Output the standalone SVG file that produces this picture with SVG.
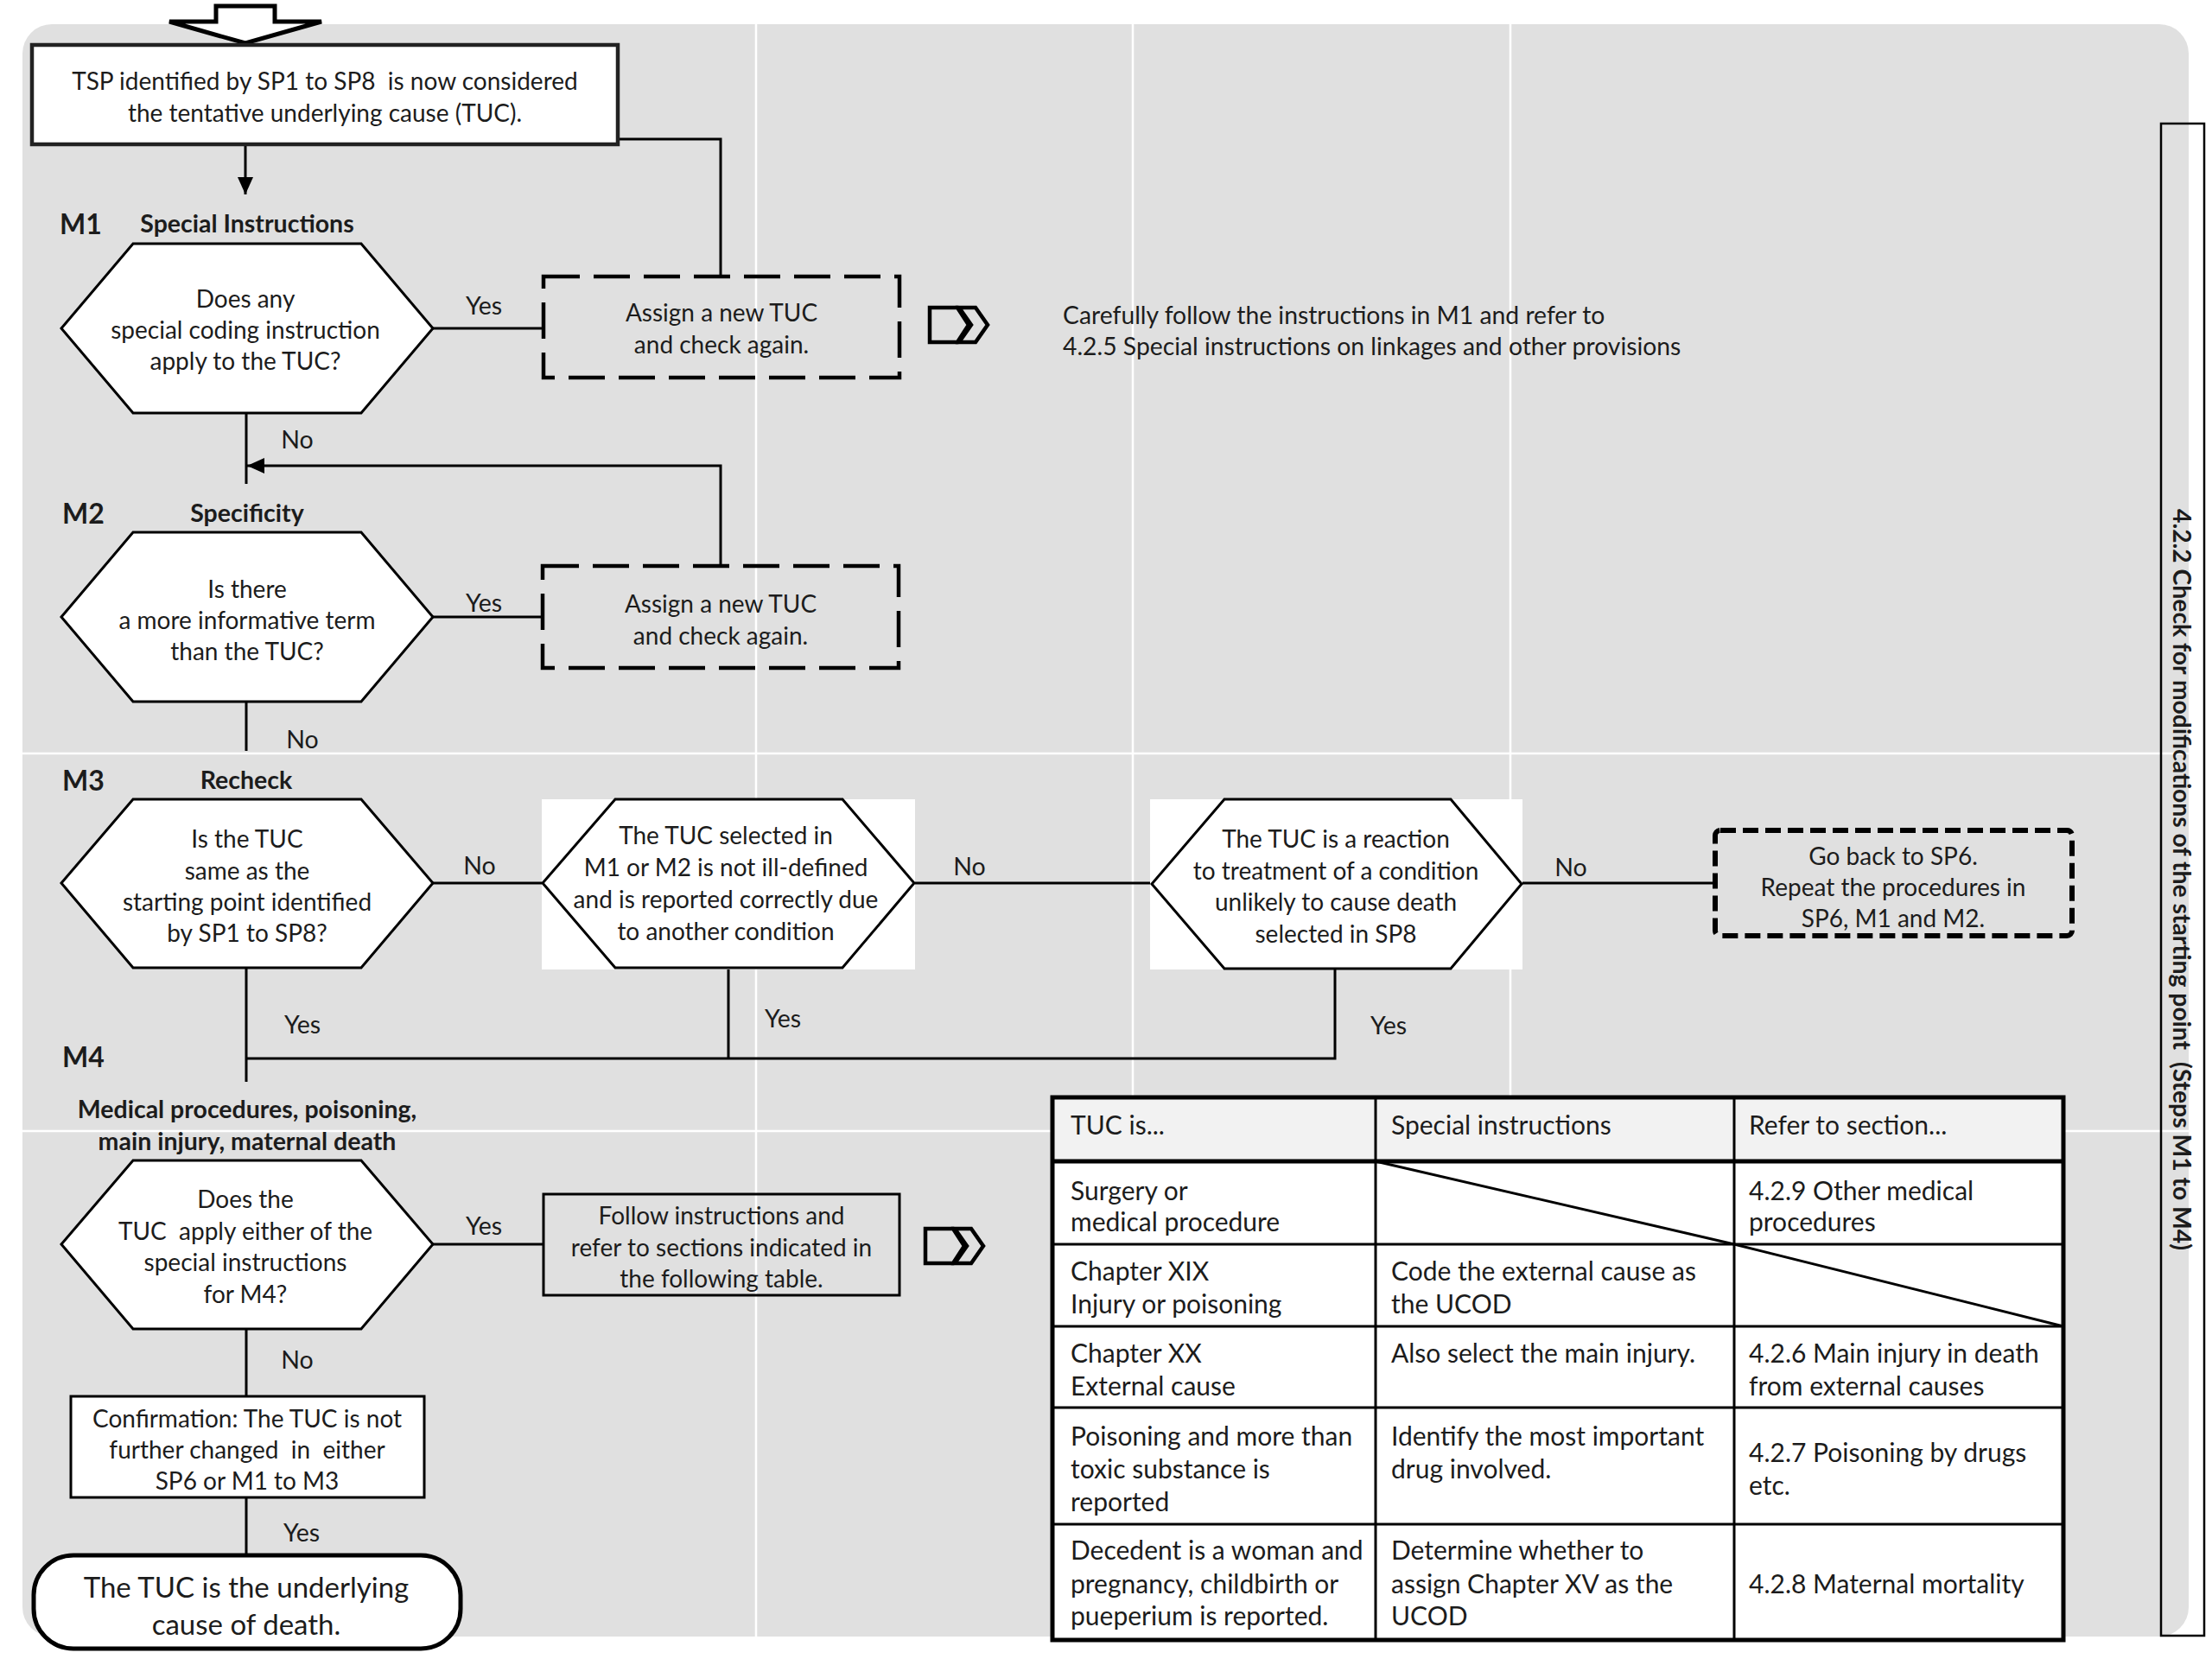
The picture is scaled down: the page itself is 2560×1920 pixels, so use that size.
<svg xmlns="http://www.w3.org/2000/svg" width="2560" height="1920" viewBox="0 0 2560 1920">
<defs>
<style>
text{font-family:Lato,"Liberation Sans",sans-serif;fill:#1c1c1c;dominant-baseline:central}
.t{font-size:28px;text-anchor:middle}
.tl{font-size:30px;text-anchor:start}
.lb{font-size:28.5px;text-anchor:middle}
.hb{font-size:28.5px;font-weight:bold;text-anchor:middle}
.mb{font-size:32px;font-weight:bold;text-anchor:start}
.big{font-size:33px;text-anchor:middle}
.hex{fill:#fff;stroke:#000;stroke-width:3;stroke-linejoin:miter}
.box{fill:none;stroke:#000;stroke-width:3}
.dash1{fill:none;stroke:#000;stroke-width:4.5;stroke-dasharray:42 16}
.dash2{fill:none;stroke:#000;stroke-width:6;stroke-dasharray:18 8;stroke-linejoin:round}
.ln{fill:none;stroke:#000;stroke-width:3}
.grid{stroke:#fff;stroke-width:2.5}
.icon{fill:none;stroke:#000;stroke-width:4.5;stroke-linejoin:miter}
</style>
<marker id="arr" viewBox="0 0 20 18" refX="20" refY="9" markerWidth="20" markerHeight="18" markerUnits="userSpaceOnUse" orient="auto">
<path d="M0,0 L20,9 L0,18 Z" fill="#000"/>
</marker>
<g id="chev">
<path class="icon" d="M2,2 H34 L47,22 L34,42 H2 Z"/>
<path class="icon" d="M36,2 H55 L69,22 L55,42 H36 L50,22 Z"/>
</g>
</defs>

<!-- background panel -->
<g id="background">
<rect x="0" y="0" width="2560" height="1920" fill="#fff"/>
<rect x="26" y="28" width="2507" height="1866" rx="34" fill="#e0e0e0"/>
<line class="grid" x1="875" y1="28" x2="875" y2="1894"/>
<line class="grid" x1="1311" y1="28" x2="1311" y2="1894"/>
<line class="grid" x1="1748" y1="28" x2="1748" y2="1894"/>
<line class="grid" x1="26" y1="872" x2="2533" y2="872"/>
<line class="grid" x1="26" y1="1309" x2="2533" y2="1309"/>
</g>

<g id="side-label">
<rect x="2501" y="143" width="50" height="1750" fill="none" stroke="#000" stroke-width="2.5"/>
<text transform="translate(2526,1018) rotate(90)" style="font-size:28.3px;font-weight:bold;text-anchor:middle" xml:space="preserve">4.2.2 Check for modifications of the starting point  (Steps M1 to M4)</text>
</g>

<g id="entry-arrow">
<polygon points="250,7 318,7 318,25 372,25 284,50 196,25 250,25" fill="#fff" stroke="#000" stroke-width="5"/>
</g>

<!-- connectors -->
<g id="connectors">
<path class="ln" d="M284,168 V225" marker-end="url(#arr)"/>
<path class="ln" d="M715,161 H834 V320"/>
<path class="ln" d="M499,380 H629"/>
<path class="ln" d="M285,478 V560"/>
<path class="ln" d="M834,655 V539 H286" marker-end="url(#arr)"/>
<path class="ln" d="M501,714 H628"/>
<path class="ln" d="M285,812 V869"/>
<path class="ln" d="M501,1022 H628"/>
<path class="ln" d="M1058,1022 H1333"/>
<path class="ln" d="M1761,1022 H1985"/>
<path class="ln" d="M285,1120 V1252"/>
<path class="ln" d="M843,1120 V1225"/>
<path class="ln" d="M1545,1121 V1225 H285"/>
<path class="ln" d="M501,1440 H629"/>
<path class="ln" d="M285,1538 V1616"/>
<path class="ln" d="M285,1733 V1800"/>
<text class="lb" x="560" y="353">Yes</text>
<text class="lb" x="344" y="508">No</text>
<text class="lb" x="560" y="697">Yes</text>
<text class="lb" x="350" y="855">No</text>
<text class="lb" x="555" y="1001">No</text>
<text class="lb" x="1122" y="1002">No</text>
<text class="lb" x="1818" y="1003">No</text>
<text class="lb" x="350" y="1185">Yes</text>
<text class="lb" x="906" y="1178">Yes</text>
<text class="lb" x="1607" y="1186">Yes</text>
<text class="lb" x="560" y="1418">Yes</text>
<text class="lb" x="344" y="1573">No</text>
<text class="lb" x="349" y="1773">Yes</text>
</g>

<g id="start">
<rect x="37" y="52" width="678" height="115" fill="#fff" stroke="#222" stroke-width="4.5"/>
<text class="t" x="376" y="93" xml:space="preserve">TSP identified by SP1 to SP8  is now considered</text>
<text class="t" x="376" y="130">the tentative underlying cause (TUC).</text>
</g>

<g id="m1">
<text class="mb" x="69" y="258">M1</text>
<text class="hb" x="286" y="258">Special Instructions</text>
<polygon class="hex" points="154,282 418,282 501,380 418,478 154,478 71,380"/>
<text class="t" x="284" y="345">Does any</text>
<text class="t" x="284" y="381">special coding instruction</text>
<text class="t" x="284" y="417">apply to the TUC?</text>
</g>

<g id="m1-assign">
<rect class="dash1" x="629" y="320" width="412" height="117"/>
<text class="t" x="835" y="361">Assign a new TUC</text>
<text class="t" x="835" y="398">and check again.</text>
</g>

<g id="m1-note">
<use href="#chev" x="1074" y="354"/>
<text x="1230" y="364" style="font-size:28.3px">Carefully follow the instructions in M1 and refer to</text>
<text x="1230" y="400" style="font-size:28.3px">4.2.5 Special instructions on linkages and other provisions</text>
</g>

<g id="m2">
<text class="mb" x="72" y="593">M2</text>
<text class="hb" x="286" y="593">Specificity</text>
<polygon class="hex" points="154,616 418,616 501,714 418,812 154,812 71,714"/>
<text class="t" x="286" y="681">Is there</text>
<text class="t" x="286" y="717">a more informative term</text>
<text class="t" x="286" y="753">than the TUC?</text>
</g>

<g id="m2-assign">
<rect class="dash1" x="628" y="655" width="412" height="118"/>
<text class="t" x="834" y="698">Assign a new TUC</text>
<text class="t" x="834" y="735">and check again.</text>
</g>

<g id="m3">
<text class="mb" x="72" y="902">M3</text>
<text class="hb" x="285" y="902">Recheck</text>
<polygon class="hex" points="154,925 418,925 501,1022 418,1120 154,1120 71,1022"/>
<text class="t" x="286" y="970">Is the TUC</text>
<text class="t" x="286" y="1007">same as the</text>
<text class="t" x="286" y="1043">starting point identified</text>
<text class="t" x="286" y="1079">by SP1 to SP8?</text>
</g>

<g id="m3-illdefined">
<rect x="627" y="925" width="432" height="197" fill="#fff"/>
<polygon class="hex" points="712,925 975,925 1058,1022 975,1120 712,1120 628,1022"/>
<text class="t" x="840" y="966">The TUC selected in</text>
<text class="t" x="840" y="1003">M1 or M2 is not ill-defined</text>
<text class="t" x="840" y="1040">and is reported correctly due</text>
<text class="t" x="840" y="1077">to another condition</text>
</g>

<g id="m3-reaction">
<rect x="1331" y="925" width="431" height="197" fill="#fff"/>
<polygon class="hex" points="1417,925 1679,925 1761,1023 1679,1121 1417,1121 1333,1023"/>
<text class="t" x="1546" y="970">The TUC is a reaction</text>
<text class="t" x="1546" y="1007">to treatment of a condition</text>
<text class="t" x="1546" y="1043">unlikely to cause death</text>
<text class="t" x="1546" y="1080">selected in SP8</text>
</g>

<g id="m3-goback">
<rect class="dash2" x="1985" y="961" width="413" height="122" rx="6"/>
<text class="t" x="2191" y="990">Go back to SP6.</text>
<text class="t" x="2191" y="1026">Repeat the procedures in</text>
<text class="t" x="2191" y="1062">SP6, M1 and M2.</text>
</g>

<g id="m4">
<text class="mb" x="72" y="1222">M4</text>
<text class="hb" x="286" y="1283">Medical procedures, poisoning,</text>
<text class="hb" x="286" y="1320">main injury, maternal death</text>
<polygon class="hex" points="154,1343 418,1343 501,1440 418,1538 154,1538 71,1440"/>
<text class="t" x="284" y="1387">Does the</text>
<text class="t" x="284" y="1424" xml:space="preserve">TUC  apply either of the</text>
<text class="t" x="284" y="1460">special instructions</text>
<text class="t" x="284" y="1497">for M4?</text>
</g>

<g id="m4-follow">
<rect class="box" x="629" y="1382" width="412" height="117"/>
<text class="t" x="835" y="1406">Follow instructions and</text>
<text class="t" x="835" y="1443">refer to sections indicated in</text>
<text class="t" x="835" y="1479">the following table.</text>
<use href="#chev" x="1069" y="1420"/>
</g>

<g id="confirm">
<rect x="82" y="1616" width="409" height="117" fill="#fff" stroke="#000" stroke-width="3"/>
<text class="t" x="286" y="1641">Confirmation: The TUC is not</text>
<text class="t" x="286" y="1677" xml:space="preserve">further changed  in  either</text>
<text class="t" x="286" y="1713">SP6 or M1 to M3</text>
</g>

<g id="end">
<rect x="39" y="1800" width="494" height="108" rx="46" fill="#fff" stroke="#000" stroke-width="5"/>
<text class="big" x="285" y="1836">The TUC is the underlying</text>
<text class="big" x="285" y="1879">cause of death.</text>
</g>

<g id="m4-table">
<rect x="1218" y="1270" width="1170" height="74" fill="#f2f2f2"/>
<rect x="1218" y="1344" width="1170" height="554" fill="#fff"/>
<g stroke="#000" stroke-width="3" fill="none">
<line x1="1592" y1="1270" x2="1592" y2="1898"/>
<line x1="2007" y1="1270" x2="2007" y2="1898"/>
<line x1="1218" y1="1440" x2="2388" y2="1440"/>
<line x1="1218" y1="1535" x2="2388" y2="1535"/>
<line x1="1218" y1="1629" x2="2388" y2="1629"/>
<line x1="1218" y1="1764" x2="2388" y2="1764"/>
<line x1="1592" y1="1344" x2="2007" y2="1440"/>
<line x1="2007" y1="1440" x2="2388" y2="1535"/>
<line x1="1218" y1="1344" x2="2388" y2="1344" stroke-width="5"/>
<rect x="1218" y="1270" width="1170" height="628" stroke-width="5"/>
</g>
<text class="tl" x="1239" y="1301">TUC is...</text>
<text class="tl" x="1610" y="1301">Special instructions</text>
<text class="tl" x="2024" y="1301">Refer to section...</text>
<text class="tl" x="1239" y="1377">Surgery or</text>
<text class="tl" x="1239" y="1413">medical procedure</text>
<text class="tl" x="2024" y="1377">4.2.9 Other medical</text>
<text class="tl" x="2024" y="1413">procedures</text>
<text class="tl" x="1239" y="1470">Chapter XIX</text>
<text class="tl" x="1239" y="1508">Injury or poisoning</text>
<text class="tl" x="1610" y="1470">Code the external cause as</text>
<text class="tl" x="1610" y="1508">the UCOD</text>
<text class="tl" x="1239" y="1565">Chapter XX</text>
<text class="tl" x="1239" y="1603">External cause</text>
<text class="tl" x="1610" y="1565">Also select the main injury.</text>
<text class="tl" x="2024" y="1565">4.2.6 Main injury in death</text>
<text class="tl" x="2024" y="1603">from external causes</text>
<text class="tl" x="1239" y="1661">Poisoning and more than</text>
<text class="tl" x="1239" y="1699">toxic substance is</text>
<text class="tl" x="1239" y="1737">reported</text>
<text class="tl" x="1610" y="1661">Identify the most important</text>
<text class="tl" x="1610" y="1699">drug involved.</text>
<text class="tl" x="2024" y="1680">4.2.7 Poisoning by drugs</text>
<text class="tl" x="2024" y="1718">etc.</text>
<text class="tl" x="1239" y="1793">Decedent is a woman and</text>
<text class="tl" x="1239" y="1832">pregnancy, childbirth or</text>
<text class="tl" x="1239" y="1869">pueperium is reported.</text>
<text class="tl" x="1610" y="1793">Determine whether to</text>
<text class="tl" x="1610" y="1832">assign Chapter XV as the</text>
<text class="tl" x="1610" y="1869">UCOD</text>
<text class="tl" x="2024" y="1832">4.2.8 Maternal mortality</text>
</g>
</svg>
